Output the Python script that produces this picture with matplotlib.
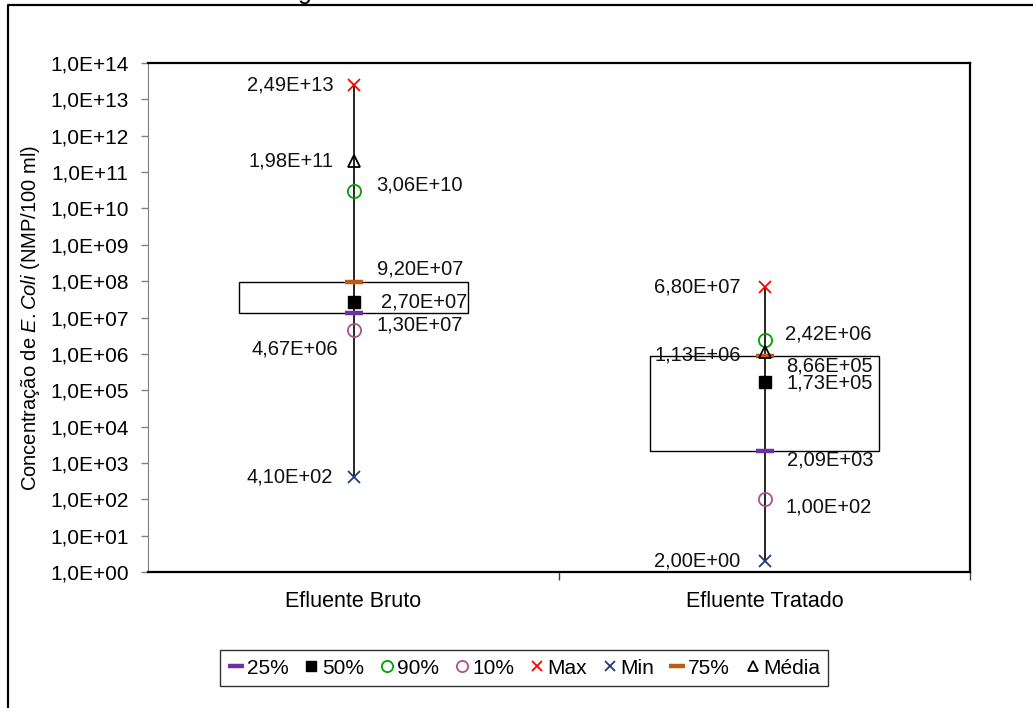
import matplotlib
matplotlib.use("Agg")
import matplotlib.pyplot as plt
import matplotlib.ticker as mticker
from matplotlib.lines import Line2D
import numpy as np

plt.rcParams['font.family'] = ['Liberation Sans', 'DejaVu Sans']
plt.rcParams['mathtext.fontset'] = 'custom'
plt.rcParams['mathtext.it'] = 'Liberation Sans:italic'
plt.rcParams['mathtext.rm'] = 'Liberation Sans'

# data
categorias = ['Efluente Bruto', 'Efluente Tratado']
p25 = [1.30e7, 2.09e3]
p50 = [2.70e7, 1.73e5]
p90 = [3.06e10, 2.42e6]
p10 = [4.67e6, 1.00e2]
vmax = [2.49e13, 6.80e7]
vmin = [4.10e2, 2.00e0]
p75 = [9.20e7, 8.66e5]
media = [1.98e11, 1.13e6]
rotulos = {
    '25%': ['1,30E+07', '2,09E+03'],
    '50%': ['2,70E+07', '1,73E+05'],
    '90%': ['3,06E+10', '2,42E+06'],
    '10%': ['4,67E+06', '1,00E+02'],
    'Max': ['2,49E+13', '6,80E+07'],
    'Min': ['4,10E+02', '2,00E+00'],
    '75%': ['9,20E+07', '8,66E+05'],
    'Média': ['1,98E+11', '1,13E+06'],
}

# label offsets in pixels (per category)
offsets = {
    '25%': [(23, -12, 'left'), (22, -9, 'left')],
    '50%': [(27, 0, 'left'), (22, -1, 'left')],
    '90%': [(23, 6, 'left'), (21, 6, 'left')],
    '10%': [(-15, -19, 'right'), (21, -8, 'left')],
    'Max': [(-20, 0, 'right'), (-24, 0, 'right')],
    'Min': [(-21, 0, 'right'), (-24, 0, 'right')],
    '75%': [(24, 13, 'left'), (22, -10, 'left')],
    'Média': [(-20, 0, 'right'), (-24, -3, 'right')],
}

estilos = {
    '25%': dict(marker='_', color='#7030A0', ms=13, mew=3.2),
    '50%': dict(marker='s', color='black', ms=8.5),
    '90%': dict(marker='o', color='#00A000', mfc='none', ms=9.5, mew=1.3),
    '10%': dict(marker='o', color='#B0508A', mfc='none', ms=9.5, mew=1.3),
    'Max': dict(marker='x', color='#FF0000', ms=9, mew=1.3),
    'Min': dict(marker='x', color='#1F3B7A', ms=9, mew=1.3),
    '75%': dict(marker='_', color='#C05A10', ms=13, mew=3.2),
    'Média': dict(marker='^', color='black', mfc='none', ms=9, mew=1.3),
}
valores = {'25%': p25, '50%': p50, '90%': p90, '10%': p10,
           'Max': vmax, 'Min': vmin, '75%': p75, 'Média': media}

fig = plt.figure(figsize=(10.33, 7.08), dpi=100)
ax = fig.add_axes([148/1033, 1-572/708, 822/1033, 509/708])

x = np.arange(len(categorias))
ax.vlines(x, vmin, vmax, color='black', lw=1.2, zorder=1)
ax.bar(x, np.array(p75) - np.array(p25), bottom=p25, width=0.555,
       fill=False, edgecolor='black', lw=1.0, zorder=2)

for nome in ['25%', '50%', '90%', '10%', 'Max', 'Min', '75%', 'Média']:
    ax.plot(x, valores[nome], ls='none', zorder=3, **estilos[nome])
    for i in range(len(categorias)):
        dx, dy, ha = offsets[nome][i]
        ax.annotate(rotulos[nome][i], (x[i], valores[nome][i]),
                    xytext=(dx, dy), textcoords='offset pixels',
                    ha=ha, va='center', fontsize=14.5, color='#111111', zorder=4)

ax.set_yscale('log')
ax.set_ylim(1, 1e14)
ax.set_xlim(-0.5, 1.5)
ax.yaxis.set_major_locator(mticker.FixedLocator([10.0**k for k in range(15)]))
ax.yaxis.set_minor_locator(mticker.NullLocator())
ax.yaxis.set_major_formatter(mticker.FuncFormatter(
    lambda v, p: '1,0E+%02d' % int(round(np.log10(v)))))
ax.tick_params(axis='y', colors='#808080', length=5, width=1, labelsize=15,
               labelcolor='black', pad=9)
ax.spines['left'].set_color('#808080')
for s in ['top', 'right', 'bottom']:
    ax.spines[s].set_color('black')
    ax.spines[s].set_linewidth(1.6)

ax.set_xticks(x)
ax.set_xticklabels(categorias, fontsize=15.5)
ax.tick_params(axis='x', length=0, pad=14)
ax.set_xticks([0.5, 1.5], minor=True)
ax.tick_params(axis='x', which='minor', length=6, width=1, color='#404040')

ax.set_ylabel('Concentração de $\\it{E. Coli}$ (NMP/100 ml)', fontsize=14.5, labelpad=6)

handles = [Line2D([], [], ls='none', **estilos[n]) for n in valores]
for h in handles:
    h.set_markersize(h.get_markersize() * 0.85)
leg = fig.legend(handles, list(valores.keys()), loc='center', ncol=8,
                 bbox_to_anchor=(524/1033, 1-668/708), fontsize=15,
                 frameon=True, fancybox=False, edgecolor='black',
                 handlelength=0.8, handletextpad=0.1, columnspacing=0.7,
                 borderpad=0.4)
leg.get_frame().set_linewidth(1.0)

# outer chart border (cropped) and cut-off title
fig.add_artist(Line2D([8/1033, 8/1033, 1.0], [0.0, 1-5/708, 1-5/708],
                      transform=fig.transFigure, color='black', lw=1.6))
fig.text(298/1033, 1+1/708, 'g', fontsize=18, va='baseline', ha='left')

fig.savefig('out.png', dpi=100)
